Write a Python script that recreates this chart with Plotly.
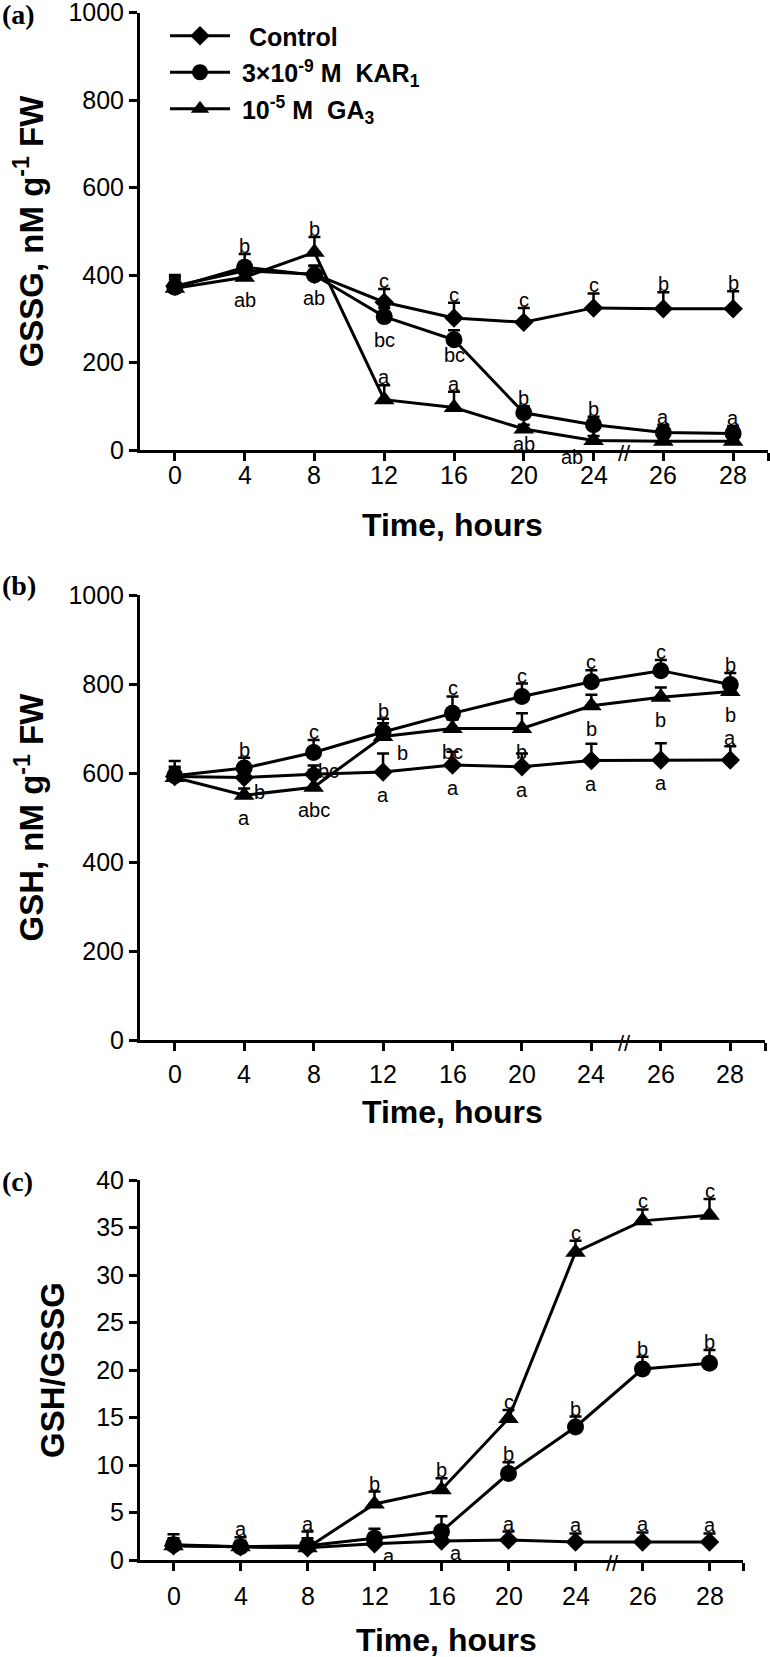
import plotly.graph_objects as go

W, H = 770, 1657

# ---------------- data ----------------
time_labels = ["0", "4", "8", "12", "16", "20", "24", "26", "28"]
series_names = ["\u00a0\u00a0Control",
                "\u00a03×10<sup>-9</sup> M\u00a0 KAR<sub>1</sub>",
                "\u00a010<sup>-5</sup> M\u00a0 GA<sub>3</sub>"]

# (a) GSSG, nM g-1 FW
gssg_control = [375, 410, 402, 338, 302, 292, 325, 323, 323]
gssg_control_err = [20, 20, 20, 30, 35, 33, 33, 38, 40]
gssg_kar = [372, 418, 400, 305, 252, 85, 58, 40, 38]
gssg_kar_err = [28, 30, 20, 20, 22, 15, 18, 18, 17]
gssg_ga = [370, 395, 452, 115, 97, 48, 22, 20, 20]
gssg_ga_err = [20, 20, 35, 33, 36, 10, 10, 8, 8]

# (b) GSH, nM g-1 FW
gsh_control = [592, 590, 597, 602, 618, 614, 628, 629, 629]
gsh_control_err = [35, 20, 20, 42, 30, 30, 38, 38, 31]
gsh_kar = [594, 611, 646, 692, 734, 772, 805, 830, 799]
gsh_kar_err = [20, 23, 28, 30, 38, 29, 26, 24, 26]
gsh_ga = [590, 550, 568, 682, 700, 700, 751, 770, 783]
gsh_ga_err = [20, 15, 39, 30, 20, 34, 25, 22, 22]

# (c) GSH/GSSG
ratio_control = [1.5, 1.4, 1.3, 1.7, 2.0, 2.1, 1.9, 1.9, 1.9]
ratio_control_err = [0.5, 0.5, 0.5, 0.5, 0.5, 0.9, 0.9, 1.0, 0.9]
ratio_kar = [1.6, 1.4, 1.5, 2.3, 3.0, 9.1, 14.0, 20.1, 20.7]
ratio_kar_err = [1.1, 1.0, 1.5, 1.0, 1.6, 1.2, 1.1, 1.3, 1.4]
ratio_ga = [1.5, 1.4, 1.3, 5.9, 7.4, 14.9, 32.4, 35.7, 36.3]
ratio_ga_err = [0.8, 0.6, 1.0, 1.3, 1.2, 0.9, 1.2, 1.2, 1.7]

# significance letters: (series, time index, letter, placement)
letters_a = [
    ("kar", 1, "b", "up"), ("ga", 1, "ab", "down"),
    ("ga", 2, "b", "up"), ("kar", 2, "ab", "down"),
    ("ctrl", 3, "c", "up"), ("kar", 3, "bc", "down"), ("ga", 3, "a", "up"),
    ("ctrl", 4, "c", "up"), ("kar", 4, "bc", "down_near"), ("ga", 4, "a", "up"),
    ("ctrl", 5, "c", "up"), ("kar", 5, "b", "up"), ("ga", 5, "ab", "down_near"),
    ("ctrl", 6, "c", "up"), ("kar", 6, "b", "up"), ("ga", 6, "ab", "down_left"),
    ("ctrl", 7, "b", "up"), ("kar", 7, "a", "up"),
    ("ctrl", 8, "b", "up"), ("kar", 8, "a", "up"),
]
letters_b = [
    ("kar", 1, "b", "up"), ("ga", 1, "b", "right"), ("ga", 1, "a", "down"),
    ("kar", 2, "c", "up"), ("ctrl", 2, "bc", "right"), ("ga", 2, "abc", "down"),
    ("kar", 3, "b", "up"), ("ga", 3, "b", "right_low"), ("ctrl", 3, "a", "down"),
    ("kar", 4, "c", "up"), ("ga", 4, "bc", "down"), ("ctrl", 4, "a", "down"),
    ("kar", 5, "c", "up"), ("ga", 5, "b", "down"), ("ctrl", 5, "a", "down"),
    ("kar", 6, "c", "up"), ("ga", 6, "b", "down"), ("ctrl", 6, "a", "down"),
    ("kar", 7, "c", "up"), ("ga", 7, "b", "down"), ("ctrl", 7, "a", "down"),
    ("kar", 8, "b", "up"), ("ga", 8, "b", "down"), ("ctrl", 8, "a", "up"),
]
letters_c = [
    ("kar", 1, "a", "up"), ("kar", 2, "a", "up"),
    ("ga", 3, "b", "up"), ("ctrl", 3, "a", "right_below"),
    ("ga", 4, "b", "up"), ("ctrl", 4, "a", "right_below"),
    ("ga", 5, "c", "up"), ("kar", 5, "b", "up"), ("ctrl", 5, "a", "up"),
    ("ga", 6, "c", "up"), ("kar", 6, "b", "up"), ("ctrl", 6, "a", "up"),
    ("ga", 7, "c", "up"), ("kar", 7, "b", "up"), ("ctrl", 7, "a", "up"),
    ("ga", 8, "c", "up"), ("kar", 8, "b", "up"), ("ctrl", 8, "a", "up"),
]

# ---------------- layout geometry (pixels) ----------------
panels = [
    dict(key="", x0=140, x1=768, ytop=12.7, ybot=450, yrange=[0, 1000], dtick=200,
         ytitle="GSSG, nM g<sup>-1</sup> FW", ytitle_x=29, label="(a)", label_y=14,
         xtitle_y=525, xtitle_x=452, xlabel_y=475, brk=6.45),
    dict(key="2", x0=140, x1=765, ytop=595, ybot=1040, yrange=[0, 1000], dtick=200,
         ytitle="GSH, nM g<sup>-1</sup> FW", ytitle_x=29, label="(b)", label_y=585,
         xtitle_y=1112, xtitle_x=452, xlabel_y=1074, brk=6.47),
    dict(key="3", x0=140, x1=743, ytop=1180, ybot=1560, yrange=[0, 40], dtick=5,
         ytitle="GSH/GSSG", ytitle_x=52, label="(c)", label_y=1181,
         xtitle_y=1640, xtitle_x=446, xlabel_y=1596, brk=6.55),
]

datasets = [
    dict(ctrl=(gssg_control, gssg_control_err), kar=(gssg_kar, gssg_kar_err), ga=(gssg_ga, gssg_ga_err), letters=letters_a),
    dict(ctrl=(gsh_control, gsh_control_err), kar=(gsh_kar, gsh_kar_err), ga=(gsh_ga, gsh_ga_err), letters=letters_b),
    dict(ctrl=(ratio_control, ratio_control_err), kar=(ratio_kar, ratio_kar_err), ga=(ratio_ga, ratio_ga_err), letters=letters_c),
]

# placement offsets: (anchor, dx, dy) in px, dy positive upward
placements = {
    "up": ("err", 0, 8),
    "down": ("pt", 0, -23),
    "down_near": ("pt", 0, -15),
    "down_left": ("pt", -22, -17),
    "right": ("pt", 15, 3),
    "right_low": ("pt", 19, -16),
    "right_below": ("pt", 14, -12),
}

FONT = "Liberation Sans, Arial, sans-serif"
styles = {
    "ctrl": dict(symbol="diamond", size=15),
    "kar": dict(symbol="circle", size=17),
    "ga": dict(symbol="triangle-up", size=18),
}
order = ["ctrl", "kar", "ga"]

fig = go.Figure()
annotations = []
layout = {}
x_idx = list(range(len(time_labels)))

for pi, (p, d) in enumerate(zip(panels, datasets)):
    k = p["key"]
    xa = "x" + k
    ya = "y" + k
    for si, s in enumerate(order):
        vals, errs = d[s]
        fig.add_trace(go.Scatter(
            x=x_idx, y=vals, xaxis=xa, yaxis=ya,
            mode="lines+markers",
            name=series_names[si],
            legendgroup=s,
            showlegend=(pi == 0),
            line=dict(color="black", width=3),
            marker=dict(color="black", symbol=styles[s]["symbol"], size=styles[s]["size"]),
            error_y=dict(type="data", array=errs, arrayminus=[0] * len(errs), symmetric=False,
                         color="black", thickness=2.5, width=6),
            cliponaxis=False,
        ))
    for (s, i, txt, place) in d["letters"]:
        vals, errs = d[s]
        anchor, dx, dy = placements[place]
        yv = vals[i] + (errs[i] if anchor == "err" else 0)
        annotations.append(dict(
            x=i, y=yv, xref=xa, yref=ya, text=txt, showarrow=False,
            xshift=dx, yshift=dy, xanchor="center", yanchor="middle",
            font=dict(family=FONT, size=20, color="black"),
        ))
    # x tick labels (placed as text under each category tick)
    for i, lab in enumerate(time_labels):
        annotations.append(dict(
            x=i, y=1 - p["xlabel_y"] / H, xref=xa, yref="paper", text=lab, showarrow=False,
            xanchor="center", yanchor="middle",
            font=dict(family=FONT, size=25, color="black"),
        ))
    # axis break mark
    annotations.append(dict(x=p["brk"], y=0, xref=xa, yref=ya, text="//", showarrow=False,
                            xanchor="center", yanchor="middle", yshift=-3,
                            font=dict(family=FONT, size=22, color="black")))
    xdom = [p["x0"] / W, p["x1"] / W]
    ydom = [1 - p["ybot"] / H, 1 - p["ytop"] / H]
    layout["xaxis" + k] = dict(
        domain=xdom, anchor=ya, range=[-0.5, 8.5], automargin=False,
        tickmode="array", tickvals=x_idx + [8.5], showticklabels=False,
        showline=True, linecolor="black", linewidth=3,
        ticks="outside", ticklen=8, tickwidth=2.5, tickcolor="black",
        showgrid=False, zeroline=False,
    )
    layout["yaxis" + k] = dict(
        domain=ydom, anchor=xa, range=p["yrange"], dtick=p["dtick"], tick0=0,
        automargin=False, ticklabeloverflow="allow",
        showline=True, linecolor="black", linewidth=3,
        ticks="outside", ticklen=8, tickwidth=2.5, tickcolor="black",
        showgrid=False, zeroline=False, ticklabelstandoff=0,
        tickfont=dict(family=FONT, size=25, color="black"),
    )
    annotations.append(dict(x=p["ytitle_x"] / W, y=1 - (p["ytop"] + p["ybot"]) / 2 / H,
                            xref="paper", yref="paper", text=p["ytitle"], textangle=-90,
                            showarrow=False, xanchor="center", yanchor="middle",
                            font=dict(family=FONT, size=33, color="black", weight="bold")))
    annotations.append(dict(x=p["xtitle_x"] / W, y=1 - p["xtitle_y"] / H,
                            xref="paper", yref="paper", text="Time, hours",
                            showarrow=False, xanchor="center", yanchor="middle",
                            font=dict(family=FONT, size=32, color="black", weight="bold")))
    annotations.append(dict(x=0, y=1 - p["label_y"] / H, xref="paper", yref="paper",
                            text=p["label"], showarrow=False, xanchor="left", yanchor="middle",
                            font=dict(family="Liberation Serif, Times New Roman, serif", size=28,
                                      color="black", weight="bold")))

fig.update_layout(
    template="none",
    width=W, height=H,
    margin=dict(l=0, r=0, t=0, b=0, pad=0),
    paper_bgcolor="white", plot_bgcolor="white",
    showlegend=True,
    legend=dict(x=165 / W, y=1 - 13 / H, xanchor="left", yanchor="top",
                bgcolor="rgba(0,0,0,0)", borderwidth=0, traceorder="grouped", tracegroupgap=1,
                itemwidth=60,
                font=dict(family=FONT, size=25, color="black", weight="bold")),
    annotations=annotations,
    **layout,
)

fig.write_html("out.html", config={"displayModeBar": False},
               post_script="document.body.style.margin='0px';document.body.style.overflow='hidden';")
